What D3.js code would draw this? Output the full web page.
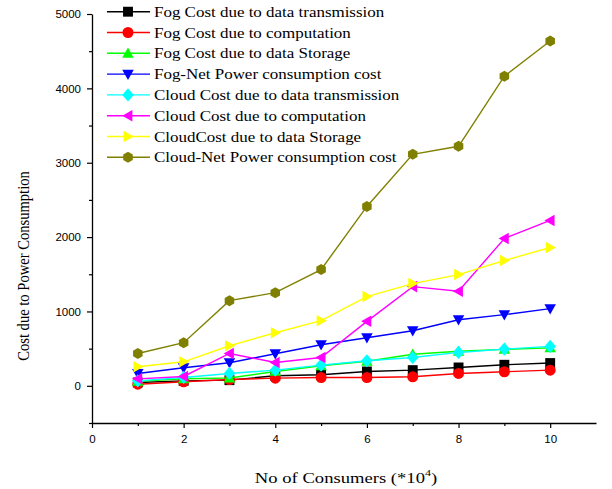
<!DOCTYPE html>
<html>
<head>
<meta charset="utf-8">
<script src="https://cdn.jsdelivr.net/npm/d3@7"></script>
<style>
  body { margin: 0; background: #fff; }
  .tick text { font-family: "Liberation Sans", Arial, sans-serif; font-size: 11.5px; }
</style>
</head>
<body>
<div id="chart"></div>
<script>
const consumers = [1, 2, 3, 4, 5, 6, 7, 8, 9, 10];

const fogTransmission = [45, 67, 76, 135, 148, 193, 211, 247, 283, 306];
const fogComputation = [22, 54, 85, 103, 112, 112, 121, 166, 189, 211];
const fogStorage = [60, 95, 105, 193, 270, 330, 425, 465, 490, 510];
const fogNet = [166, 243, 310, 431, 553, 647, 741, 889, 957, 1038];
const cloudTransmission = [67, 112, 166, 211, 279, 337, 381, 449, 494, 530];
const cloudComputation = [94, 126, 435, 314, 381, 867, 1334, 1271, 1981, 2224];
const cloudStorage = [256, 323, 539, 714, 876, 1200, 1375, 1496, 1685, 1860];
const cloudNet = [435, 580, 1145, 1253, 1563, 2412, 3113, 3221, 4164, 4636];

const seriesNames = [
  'Fog Cost due to data transmission',
  'Fog Cost due to computation',
  'Fog Cost due to data Storage',
  'Fog-Net Power consumption cost',
  'Cloud Cost due to data transmission',
  'Cloud Cost due to computation',
  'CloudCost due to data Storage',
  'Cloud-Net Power consumption cost'
];
const seriesValues = [fogTransmission, fogComputation, fogStorage, fogNet,
  cloudTransmission, cloudComputation, cloudStorage, cloudNet];
const colors = ['#000000', '#ff0000', '#00ff00', '#0000ff', '#00ffff', '#ff00ff', '#ffff00', '#808000'];
const markers = ['square', 'circle', 'up', 'down', 'diamond', 'left', 'right', 'hexagon'];

const xTicks = [0, 2, 4, 6, 8, 10];
const yTicks = [0, 1000, 2000, 3000, 4000, 5000];

const width = 612;
const height = 489;

// marker shapes, r = half size
function markerPath(type, r) {
  const pts = {
    up: [[0, -r * 1.05], [r * 1.05, r * 0.8], [-r * 1.05, r * 0.8]],
    down: [[0, r * 1.05], [r * 1.05, -r * 0.8], [-r * 1.05, -r * 0.8]],
    left: [[-r * 1.05, 0], [r * 0.8, -r * 1.05], [r * 0.8, r * 1.05]],
    right: [[r * 1.05, 0], [-r * 0.8, -r * 1.05], [-r * 0.8, r * 1.05]],
    diamond: [[0, -r * 1.2], [r * 1.05, 0], [0, r * 1.2], [-r * 1.05, 0]],
    square: [[-r * 0.9, -r * 0.9], [r * 0.9, -r * 0.9], [r * 0.9, r * 0.9], [-r * 0.9, r * 0.9]],
    hexagon: d3.range(6).map(i => {
      const a = Math.PI / 6 + i * Math.PI / 3;
      return [r * Math.cos(a), r * Math.sin(a)];
    })
  };
  if (type === 'circle') {
    return d3.symbol(d3.symbolCircle, Math.PI * r * r)();
  }
  return 'M' + pts[type].map(p => p.join(',')).join('L') + 'Z';
}

const svg = d3.select('#chart')
  .append('svg')
  .attr('width', width)
  .attr('height', height);

const x = d3.scaleLinear()
  .domain([0, 11])
  .range([92, 596]);

const y = d3.scaleLinear()
  .domain([-500, 5000])
  .range([423, 14]);

// axes with minor ticks
svg.append('g')
  .attr('transform', `translate(0, ${y(-500)})`)
  .call(d3.axisBottom(x).tickValues(d3.range(1, 11, 2)).tickSize(3).tickFormat(''))
  .call(g => g.select('.domain').remove());

svg.append('g')
  .attr('transform', `translate(0, ${y(-500)})`)
  .call(d3.axisBottom(x).tickValues(xTicks).tickSize(5).tickSizeOuter(0).tickPadding(7))
  .call(g => g.select('.domain').attr('stroke-width', 1.3));

svg.append('g')
  .attr('transform', `translate(${x(0)}, 0)`)
  .call(d3.axisLeft(y).tickValues([-500, 500, 1500, 2500, 3500, 4500]).tickSize(3).tickFormat(''))
  .call(g => g.select('.domain').remove());

svg.append('g')
  .attr('transform', `translate(${x(0)}, 0)`)
  .call(d3.axisLeft(y).tickValues(yTicks).tickFormat(d3.format('d')).tickSize(5).tickSizeOuter(0).tickPadding(6))
  .call(g => g.select('.domain').attr('stroke-width', 1.3));

svg.selectAll('.tick line').attr('stroke-width', 1.2);

// axis titles
svg.append('text')
  .attr('transform', `translate(29, 266) rotate(-90) scale(1, 1.2)`)
  .attr('text-anchor', 'middle')
  .style('font-family', '"Liberation Serif", "Times New Roman", serif')
  .style('font-size', '14.6px')
  .text('Cost due to Power Consumption');

const xTitle = svg.append('text')
  .attr('transform', 'translate(346, 483) scale(1.33, 1)')
  .attr('text-anchor', 'middle')
  .style('font-family', '"Liberation Serif", "Times New Roman", serif')
  .style('font-size', '14px');
xTitle.append('tspan').text('No of Consumers (*10');
xTitle.append('tspan').attr('dy', -7).style('font-size', '9px').text('4');
xTitle.append('tspan').attr('dy', 7).text(')');

// series
const line = d3.line()
  .x((d, i) => x(consumers[i]))
  .y(d => y(d));

seriesValues.forEach((vals, s) => {
  const g = svg.append('g');
  g.append('path')
    .datum(vals)
    .attr('d', line)
    .attr('fill', 'none')
    .attr('stroke', colors[s])
    .attr('stroke-width', 1.4);
  g.selectAll('path.m')
    .data(vals)
    .enter()
    .append('path')
    .attr('class', 'm')
    .attr('d', markerPath(markers[s], 5.5))
    .attr('transform', (d, i) => `translate(${x(consumers[i])}, ${y(d)})`)
    .attr('fill', colors[s]);
});

// legend
const legend = svg.append('g');
seriesNames.forEach((name, s) => {
  const ly = 11.7 + s * 20.8;
  legend.append('line')
    .attr('x1', 107).attr('x2', 150)
    .attr('y1', ly).attr('y2', ly)
    .attr('stroke', colors[s])
    .attr('stroke-width', 1.4);
  legend.append('path')
    .attr('d', markerPath(markers[s], 5.5))
    .attr('transform', `translate(128, ${ly})`)
    .attr('fill', colors[s]);
  legend.append('text')
    .attr('transform', `translate(154, ${ly + 5}) scale(1.17, 1)`)
    .style('font-family', '"Liberation Serif", "Times New Roman", serif')
    .style('font-size', '14.5px')
    .text(name);
});
</script>
</body>
</html>
